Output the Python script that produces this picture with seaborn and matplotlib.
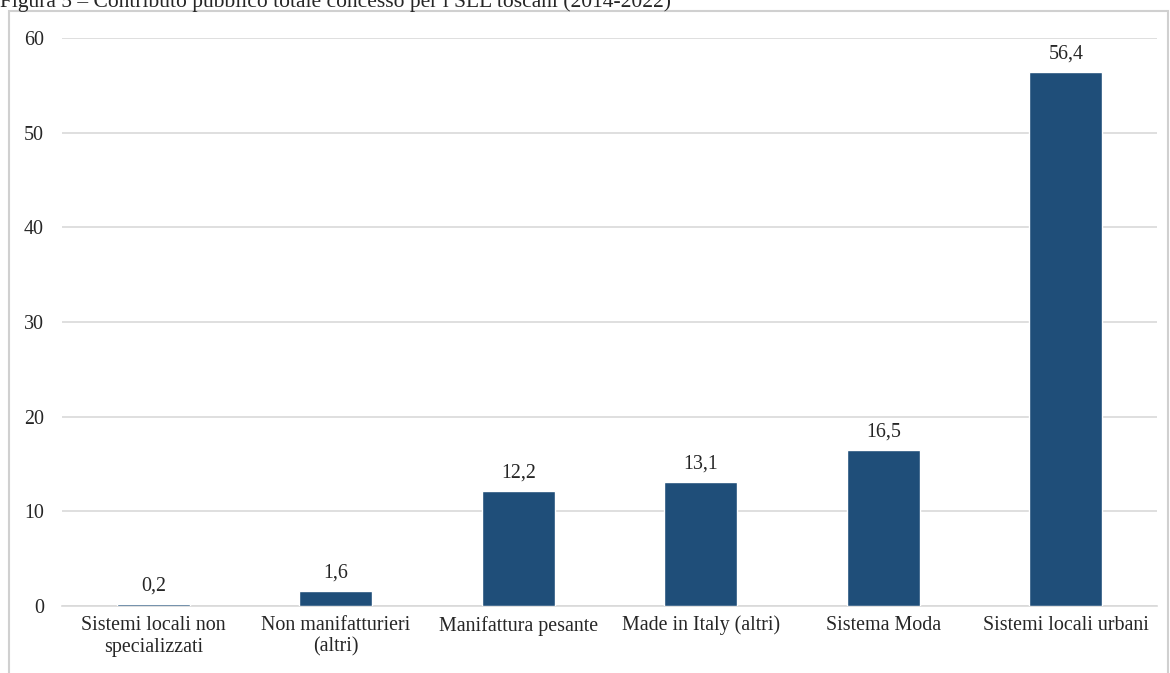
import matplotlib
matplotlib.use("Agg")
import matplotlib.pyplot as plt
import seaborn as sns
import pandas as pd
from matplotlib.patches import Rectangle

categories = ["Sistemi locali non\nspecializzati", "Non manifatturieri\n(altri)", "Manifattura pesante",
              "Made in Italy (altri)", "Sistema Moda", "Sistemi locali urbani"]
values = [0.2, 1.6, 12.2, 13.1, 16.5, 56.4]
value_labels = ["0,2", "1,6", "12,2", "13,1", "16,5", "56,4"]
yticks = [0, 10, 20, 30, 40, 50, 60]
title = "Figura 5 – Contributo pubblico totale concesso per i SLL toscani (2014-2022)"

sns.set_style("white")
plt.rcParams['font.family'] = ['Liberation Serif', 'DejaVu Serif']

FS = 14.4

fig = plt.figure(figsize=(11.7, 6.73), dpi=100)
ax = fig.add_axes([62/1170, (673-606)/673, (1157-62)/1170, (606-38)/673])

df = pd.DataFrame({"cat": categories, "val": values})
sns.barplot(data=df, x="cat", y="val", color="#1F4E79", width=0.4, ax=ax, saturation=1)
for p in ax.patches:
    p.set_zorder(3)

ax.set_ylim(0, 60)
ax.set_xlim(-0.5, len(categories) - 0.5)
ax.set_yticks(yticks)
ax.set_yticklabels([str(t) for t in yticks], fontsize=FS)
ax.tick_params(axis='x', labelsize=FS, length=0, pad=7)
ax.tick_params(axis='y', length=0, pad=13)
ax.set_xlabel("")
ax.set_ylabel("")
ax.grid(axis='y', color='#d9d9d9', linewidth=1.2)
ax.set_axisbelow(True)
for s in ["left", "right", "top"]:
    ax.spines[s].set_visible(False)
ax.spines["bottom"].set_color('#d9d9d9')
ax.spines["bottom"].set_linewidth(1.2)
ax.spines["bottom"].set_zorder(0.6)

for i, (v, lab) in enumerate(zip(values, value_labels)):
    ax.annotate(lab, (i, v), xytext=(0, 6), textcoords="offset points",
                ha="center", va="bottom", fontsize=FS)

fig.patches.append(Rectangle((9/1170, -0.1), (1168-9)/1170, (673-11)/673 + 0.1,
                             transform=fig.transFigure, fill=False,
                             edgecolor='#d0d0d0', linewidth=1.5))
fig.text(0, 1 - 7/673, title, fontsize=15.5, ha="left", va="baseline")

fig.savefig("out.png", dpi=100)
